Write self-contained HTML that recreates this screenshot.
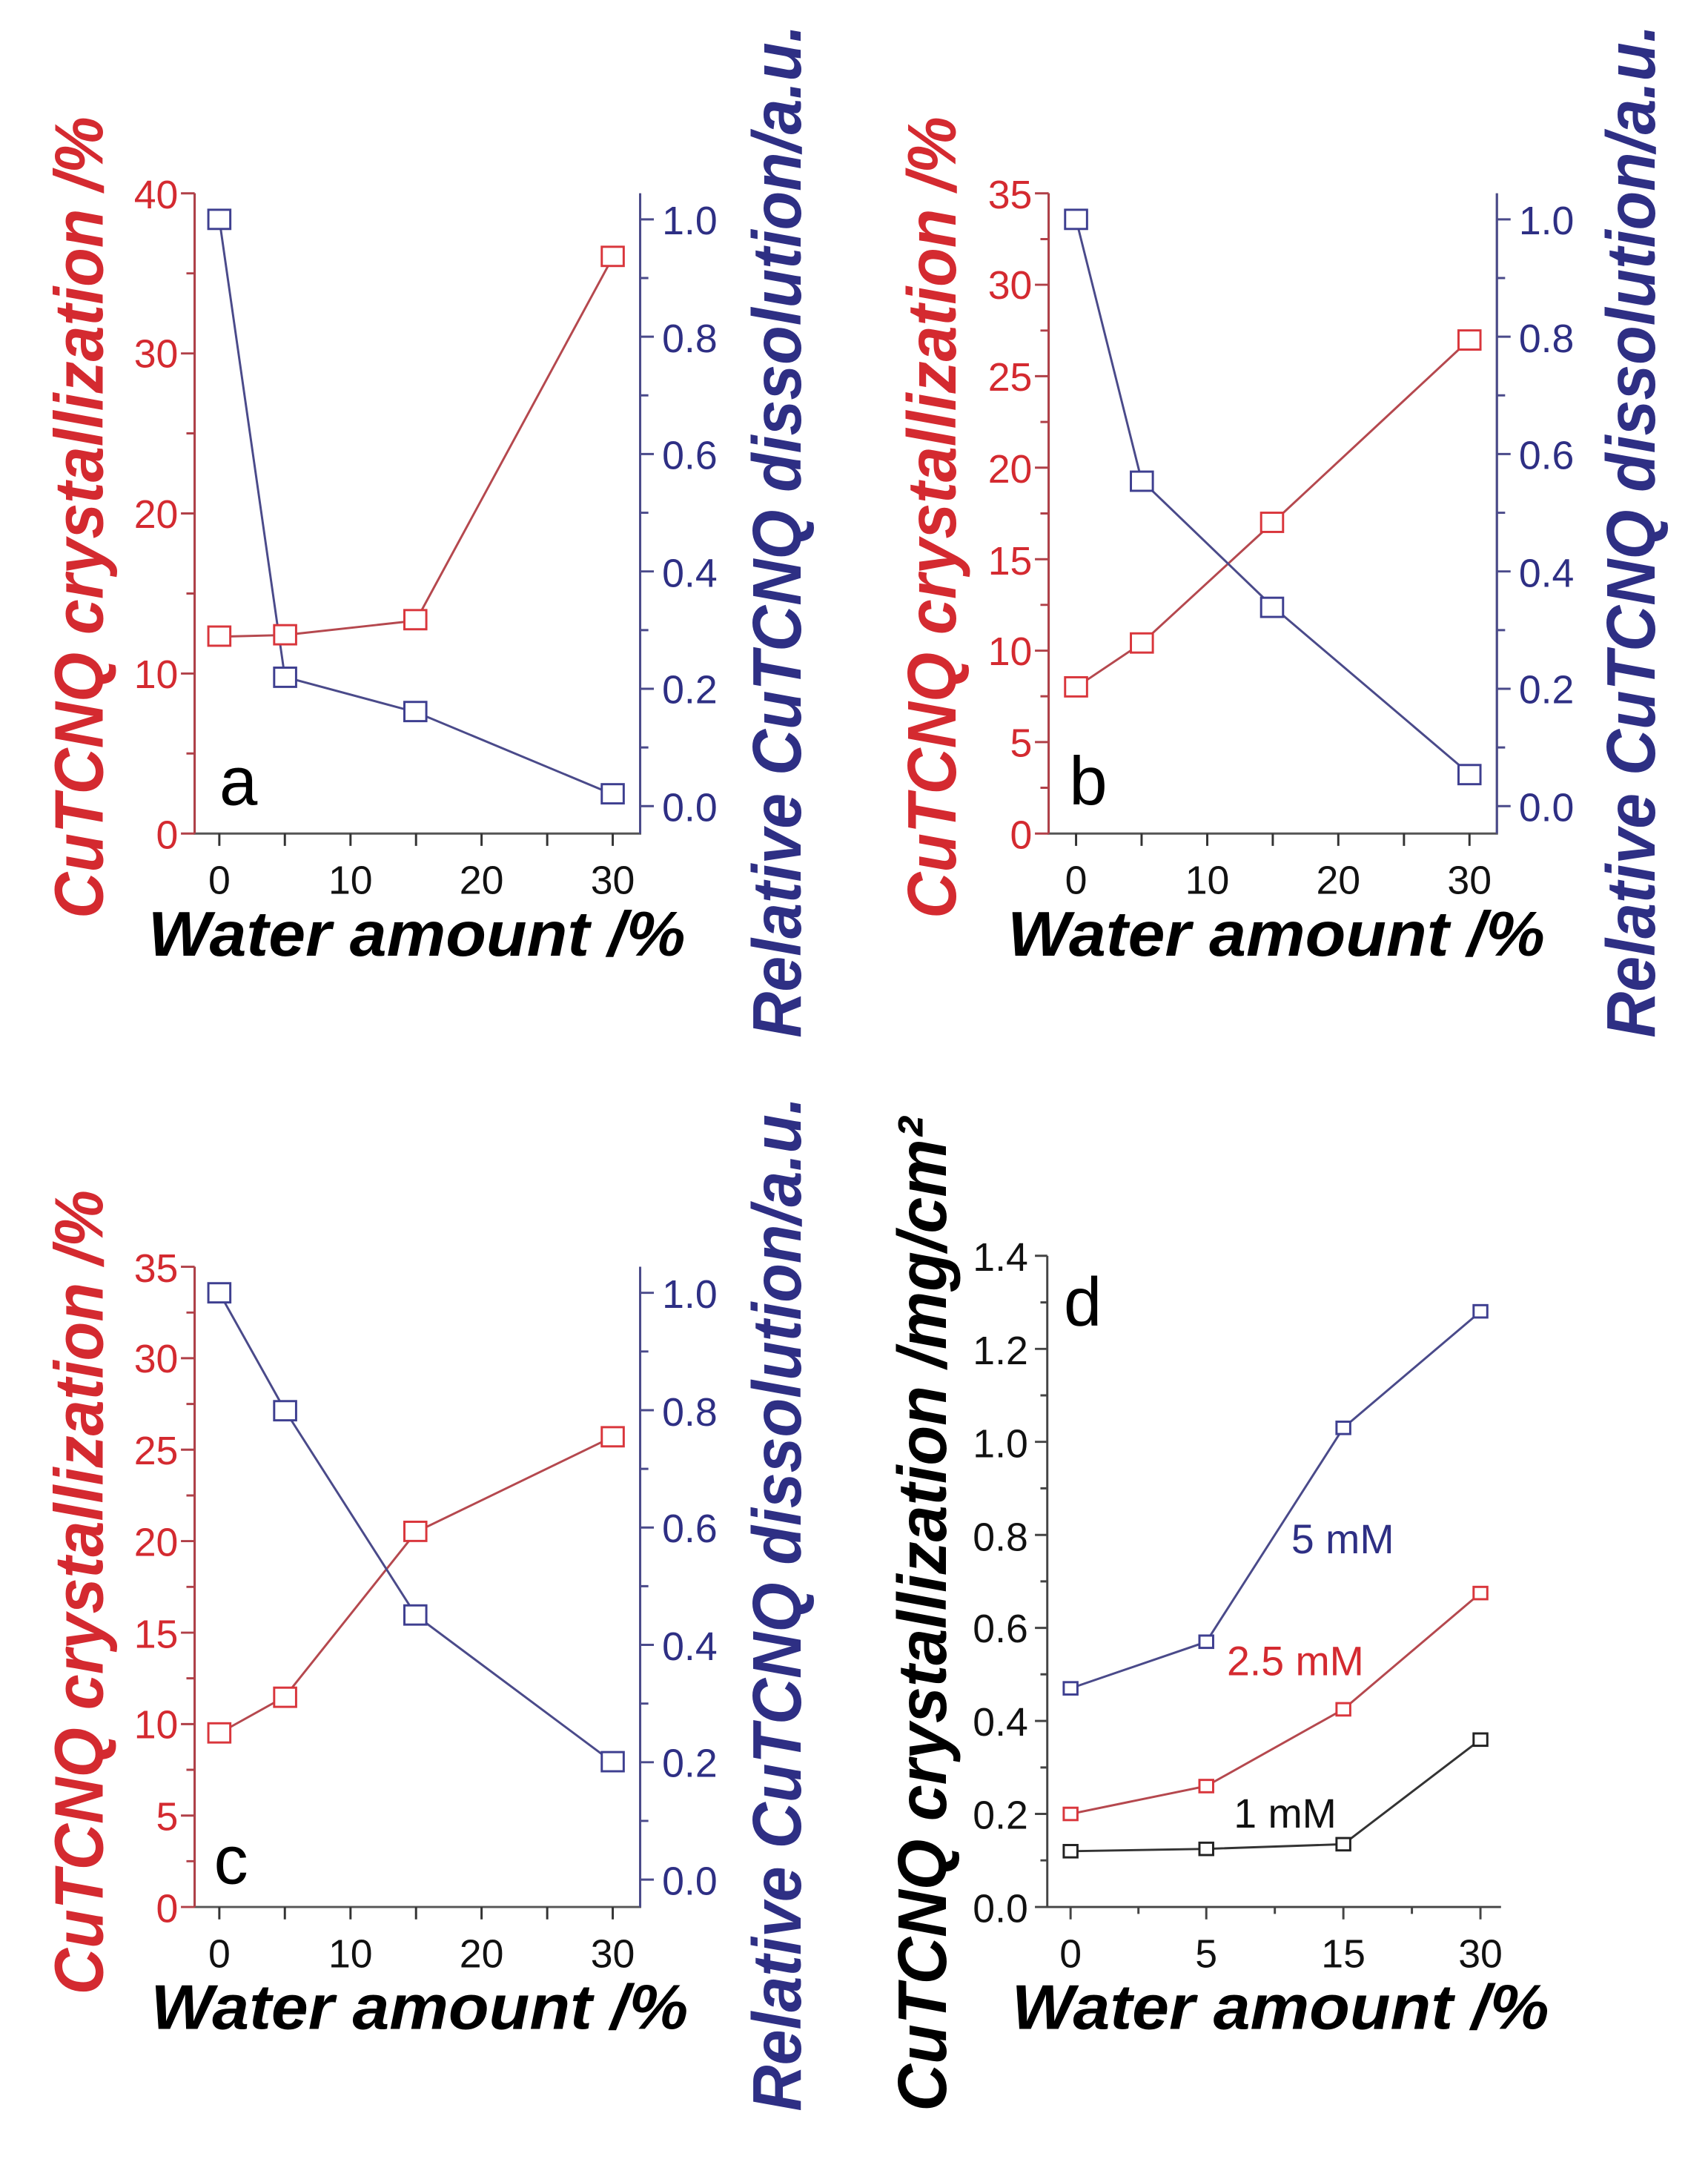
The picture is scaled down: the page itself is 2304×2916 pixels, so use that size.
<!DOCTYPE html>
<html><head><meta charset="utf-8"><style>html,body{margin:0;padding:0;background:#fff}svg{display:block}</style></head>
<body>
<svg xmlns="http://www.w3.org/2000/svg" width="2304" height="2916" viewBox="0 0 1246 1577" preserveAspectRatio="none" font-family="Liberation Sans, sans-serif">
<rect width="1246" height="1577" fill="#fff"/>
<g stroke-width="1.6" fill="none">
<!-- Panel a -->
<path d="M142 141V608H467V141" stroke="#555"/>
<path d="M142 141V608" stroke="#b04048"/>
<path d="M467 141V608" stroke="#4a4a8a"/>
<path d="M142 608h-10M142 491.3h-10M142 374.5h-10M142 257.8h-10M142 141h-10M142 549.6h-6M142 432.9h-6M142 316.1h-6M142 199.4h-6" stroke="#b04048"/>
<path d="M467 588h10M467 502.4h10M467 416.8h10M467 331.2h10M467 245.6h10M467 160h10M467 545.2h6M467 459.6h6M467 374h6M467 288.4h6M467 202.8h6" stroke="#4a4a8a"/>
<path d="M160 608v9M207.8 608v9M255.7 608v9M303.5 608v9M351.3 608v9M399.2 608v9M447 608v9" stroke="#333"/>
<polyline points="160,464.4 207.8,463.2 303.5,452.7 447,187.7" stroke="#b5484e"/>
<polyline points="160,160 207.8,493.8 303.5,519.5 447,579.4" stroke="#4a4a8a"/>
<g stroke="#d9363c" fill="#fff"><rect x="152" y="457" width="16" height="14"/><rect x="200" y="456" width="16" height="14"/><rect x="295" y="445" width="16" height="14"/><rect x="439" y="180" width="16" height="14"/></g>
<g stroke="#3e3f90" fill="#fff"><rect x="152" y="153" width="16" height="14"/><rect x="200" y="487" width="16" height="14"/><rect x="295" y="512" width="16" height="14"/><rect x="439" y="572" width="16" height="14"/></g>

<!-- Panel b -->
<path d="M765 141V608H1092V141" stroke="#555"/>
<path d="M765 141V608" stroke="#b04048"/>
<path d="M1092 141V608" stroke="#4a4a8a"/>
<path d="M765 608h-10M765 541.3h-10M765 474.6h-10M765 407.9h-10M765 341.1h-10M765 274.4h-10M765 207.7h-10M765 141h-10M765 574.6h-6M765 507.9h-6M765 441.2h-6M765 374.5h-6M765 307.8h-6M765 241.1h-6M765 174.4h-6" stroke="#b04048"/>
<path d="M1092 588h10M1092 502.4h10M1092 416.8h10M1092 331.2h10M1092 245.6h10M1092 160h10M1092 545.2h6M1092 459.6h6M1092 374h6M1092 288.4h6M1092 202.8h6" stroke="#4a4a8a"/>
<path d="M785 608v9M832.8 608v9M880.7 608v9M928.5 608v9M976.3 608v9M1024.2 608v9M1072 608v9" stroke="#333"/>
<polyline points="785,501.3 832.8,469.2 928.5,381.2 1072,247.7" stroke="#b5484e"/>
<polyline points="785,160 832.8,350.5 928.5,442.5 1072,564.5" stroke="#4a4a8a"/>
<g stroke="#d9363c" fill="#fff"><rect x="777" y="494" width="16" height="14"/><rect x="825" y="462" width="16" height="14"/><rect x="920" y="374" width="16" height="14"/><rect x="1064" y="241" width="16" height="14"/></g>
<g stroke="#3e3f90" fill="#fff"><rect x="777" y="153" width="16" height="14"/><rect x="825" y="344" width="16" height="14"/><rect x="920" y="436" width="16" height="14"/><rect x="1064" y="558" width="16" height="14"/></g>

<!-- Panel c -->
<path d="M142 924V1391H467V924" stroke="#555"/>
<path d="M142 924V1391" stroke="#b04048"/>
<path d="M467 924V1391" stroke="#4a4a8a"/>
<path d="M142 1391h-10M142 1324.3h-10M142 1257.6h-10M142 1190.9h-10M142 1124.1h-10M142 1057.4h-10M142 990.7h-10M142 924h-10M142 1357.6h-6M142 1290.9h-6M142 1224.2h-6M142 1157.5h-6M142 1090.8h-6M142 1024.1h-6M142 957.4h-6" stroke="#b04048"/>
<path d="M467 1371h10M467 1285.4h10M467 1199.8h10M467 1114.2h10M467 1028.6h10M467 943h10M467 1328.2h6M467 1242.6h6M467 1157h6M467 1071.4h6M467 985.8h6" stroke="#4a4a8a"/>
<path d="M160 1391v9M207.8 1391v9M255.7 1391v9M303.5 1391v9M351.3 1391v9M399.2 1391v9M447 1391v9" stroke="#333"/>
<polyline points="160,1264.2 207.8,1237.6 303.5,1117.5 447,1048" stroke="#b5484e"/>
<polyline points="160,943 207.8,1028.6 303.5,1178.4 447,1285.4" stroke="#4a4a8a"/>
<g stroke="#d9363c" fill="#fff"><rect x="152" y="1257" width="16" height="14"/><rect x="200" y="1231" width="16" height="14"/><rect x="295" y="1110" width="16" height="14"/><rect x="439" y="1041" width="16" height="14"/></g>
<g stroke="#3e3f90" fill="#fff"><rect x="152" y="936" width="16" height="14"/><rect x="200" y="1022" width="16" height="14"/><rect x="295" y="1171" width="16" height="14"/><rect x="439" y="1278" width="16" height="14"/></g>

<!-- Panel d -->
<path d="M764 916V1391H1095" stroke="#444"/>
<path d="M764 1391h-9M764 1323.1h-9M764 1255.3h-9M764 1187.4h-9M764 1119.6h-9M764 1051.7h-9M764 983.9h-9M764 916h-9M764 1357h-5M764 1289.2h-5M764 1221.3h-5M764 1153.5h-5M764 1085.6h-5M764 1017.8h-5M764 950h-5" stroke="#444"/>
<path d="M781 1391v9M830.5 1391v5M880 1391v9M930 1391v5M980 1391v9M1030 1391v5M1080 1391v9" stroke="#444"/>
<polyline points="781,1231.5 880,1197.6 980,1041.5 1080,956.7" stroke="#4a4a8a"/>
<polyline points="781,1323.1 880,1302.8 980,1246.8 1080,1162" stroke="#b5484e"/>
<polyline points="781,1350.3 880,1348.6 980,1345.2 1080,1268.9" stroke="#333"/>
<g stroke="#3e3f90" fill="#fff"><rect x="776" y="1227" width="10" height="9"/><rect x="875" y="1193" width="10" height="9"/><rect x="975" y="1037" width="10" height="9"/><rect x="1075" y="952" width="10" height="9"/></g>
<g stroke="#d9363c" fill="#fff"><rect x="776" y="1318.6" width="10" height="9"/><rect x="875" y="1298.3" width="10" height="9"/><rect x="975" y="1242.3" width="10" height="9"/><rect x="1075" y="1157.5" width="10" height="9"/></g>
<g stroke="#222" fill="#fff"><rect x="776" y="1345.8" width="10" height="9"/><rect x="875" y="1344.1" width="10" height="9"/><rect x="975" y="1340.7" width="10" height="9"/><rect x="1075" y="1264.4" width="10" height="9"/></g>
</g>

<!-- Tick labels -->
<g font-size="29" fill="#d42a30" text-anchor="end">
<text x="130" y="619">0</text><text x="130" y="502">10</text><text x="130" y="385">20</text><text x="130" y="268">30</text><text x="130" y="152">40</text>
<text x="753" y="619">0</text><text x="753" y="552">5</text><text x="753" y="485">10</text><text x="753" y="419">15</text><text x="753" y="352">20</text><text x="753" y="285">25</text><text x="753" y="218">30</text><text x="753" y="152">35</text>
<text x="130" y="1402">0</text><text x="130" y="1335">5</text><text x="130" y="1268">10</text><text x="130" y="1202">15</text><text x="130" y="1135">20</text><text x="130" y="1068">25</text><text x="130" y="1001">30</text><text x="130" y="935">35</text>
</g>
<g font-size="29" fill="#2e2f84">
<text x="483" y="599">0.0</text><text x="483" y="513">0.2</text><text x="483" y="428">0.4</text><text x="483" y="342">0.6</text><text x="483" y="257">0.8</text><text x="483" y="171">1.0</text>
<text x="1108" y="599">0.0</text><text x="1108" y="513">0.2</text><text x="1108" y="428">0.4</text><text x="1108" y="342">0.6</text><text x="1108" y="257">0.8</text><text x="1108" y="171">1.0</text>
<text x="483" y="1382">0.0</text><text x="483" y="1296">0.2</text><text x="483" y="1211">0.4</text><text x="483" y="1125">0.6</text><text x="483" y="1040">0.8</text><text x="483" y="954">1.0</text>
</g>
<g font-size="29" fill="#111" text-anchor="end">
<text x="750" y="1402">0.0</text><text x="750" y="1334">0.2</text><text x="750" y="1266">0.4</text><text x="750" y="1198">0.6</text><text x="750" y="1131">0.8</text><text x="750" y="1063">1.0</text><text x="750" y="995">1.2</text><text x="750" y="927">1.4</text>
</g>
<g font-size="29" fill="#111" text-anchor="middle">
<text x="160" y="652">0</text><text x="255.7" y="652">10</text><text x="351.3" y="652">20</text><text x="447" y="652">30</text>
<text x="785" y="652">0</text><text x="880.7" y="652">10</text><text x="976.3" y="652">20</text><text x="1072" y="652">30</text>
<text x="160" y="1435">0</text><text x="255.7" y="1435">10</text><text x="351.3" y="1435">20</text><text x="447" y="1435">30</text>
<text x="781" y="1435">0</text><text x="880" y="1435">5</text><text x="980" y="1435">15</text><text x="1080" y="1435">30</text>
</g>

<!-- Panel letters -->
<g font-size="50" fill="#000">
<text x="160" y="587">a</text><text x="780" y="587">b</text><text x="156" y="1374">c</text><text x="776" y="967">d</text>
</g>
<g font-size="30">
<text x="942" y="1133" fill="#2e2f84">5 mM</text>
<text x="895" y="1222" fill="#d42a30">2.5 mM</text>
<text x="900" y="1333" fill="#111">1 mM</text>
</g>

<!-- X titles -->
<g font-size="46" font-weight="bold" font-style="italic" fill="#000">
<text x="108" y="697" textLength="392" lengthAdjust="spacingAndGlyphs">Water amount /%</text>
<text x="735" y="697" textLength="392" lengthAdjust="spacingAndGlyphs">Water amount /%</text>
<text x="110" y="1480" textLength="392" lengthAdjust="spacingAndGlyphs">Water amount /%</text>
<text x="738" y="1480" textLength="392" lengthAdjust="spacingAndGlyphs">Water amount /%</text>
</g>

<!-- Y titles -->
<g font-size="50" font-weight="bold" font-style="italic">
<text transform="translate(75,670) rotate(-90)" fill="#d42a30" textLength="585" lengthAdjust="spacingAndGlyphs">CuTCNQ crystallization /%</text>
<text transform="translate(584,757) rotate(-90)" fill="#2e2f84" textLength="739" lengthAdjust="spacingAndGlyphs">Relative CuTCNQ dissolution/a.u.</text>
<text transform="translate(697,670) rotate(-90)" fill="#d42a30" textLength="585" lengthAdjust="spacingAndGlyphs">CuTCNQ crystallization /%</text>
<text transform="translate(1207,757) rotate(-90)" fill="#2e2f84" textLength="739" lengthAdjust="spacingAndGlyphs">Relative CuTCNQ dissolution/a.u.</text>
<text transform="translate(75,1455) rotate(-90)" fill="#d42a30" textLength="587" lengthAdjust="spacingAndGlyphs">CuTCNQ crystallization /%</text>
<text transform="translate(584,1540) rotate(-90)" fill="#2e2f84" textLength="740" lengthAdjust="spacingAndGlyphs">Relative CuTCNQ dissolution/a.u.</text>
<text transform="translate(690,1540) rotate(-90)" fill="#000" textLength="725" lengthAdjust="spacingAndGlyphs">CuTCNQ crystallization /mg/cm²</text>
</g>
</svg>
</body></html>
